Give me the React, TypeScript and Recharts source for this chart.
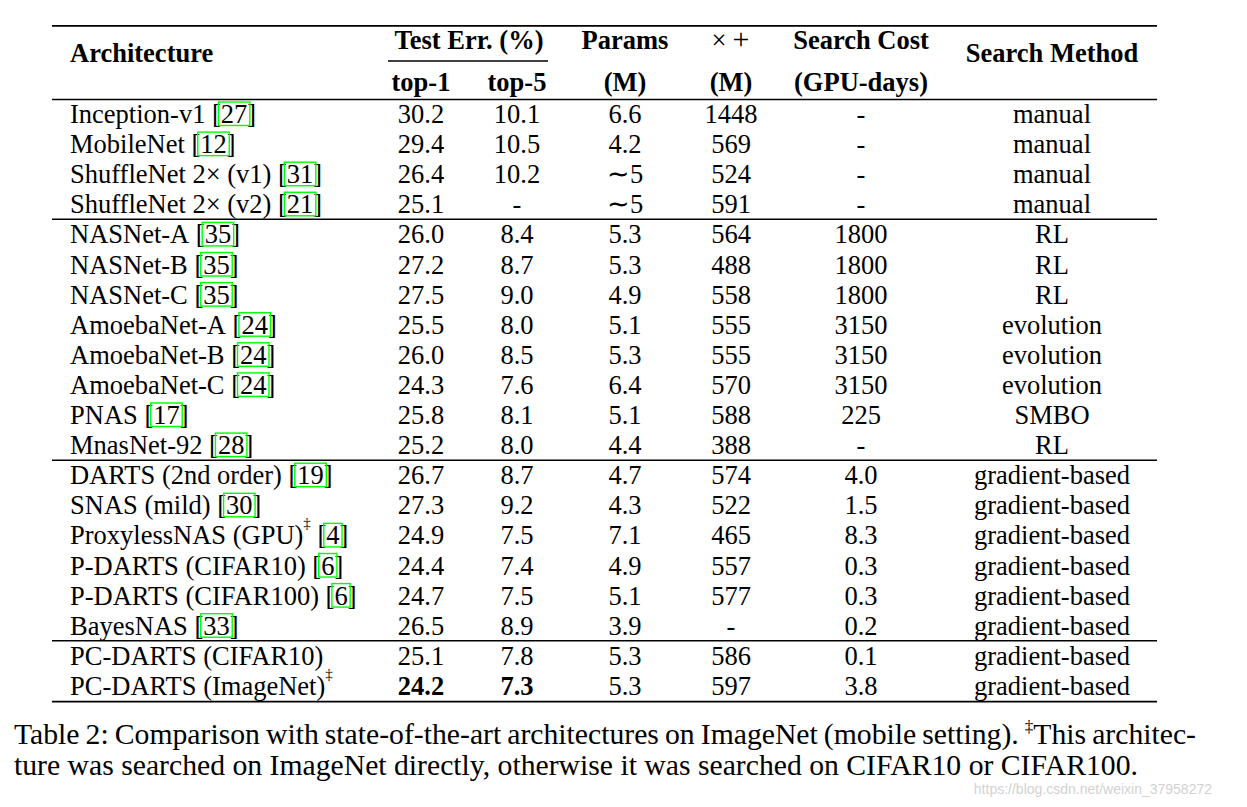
import { ReferenceLine, Scatter, ScatterChart, XAxis, YAxis } from 'recharts';

// table rows
const architectures = [
  'Inception-v1', 'MobileNet', 'ShuffleNet 2× (v1)', 'ShuffleNet 2× (v2)',
  'NASNet-A', 'NASNet-B', 'NASNet-C', 'AmoebaNet-A', 'AmoebaNet-B', 'AmoebaNet-C', 'PNAS', 'MnasNet-92',
  'DARTS (2nd order)', 'SNAS (mild)', 'ProxylessNAS (GPU)‡', 'P-DARTS (CIFAR10)', 'P-DARTS (CIFAR100)', 'BayesNAS',
  'PC-DARTS (CIFAR10)', 'PC-DARTS (ImageNet)‡',
];
const citations = ['27', '12', '31', '21', '35', '35', '35', '24', '24', '24', '17', '28', '19', '30', '4', '6', '6', '33', '', ''];
const top1 = ['30.2', '29.4', '26.4', '25.1', '26.0', '27.2', '27.5', '25.5', '26.0', '24.3', '25.8', '25.2', '26.7', '27.3', '24.9', '24.4', '24.7', '26.5', '25.1', '24.2'];
const top5 = ['10.1', '10.5', '10.2', '-', '8.4', '8.7', '9.0', '8.0', '8.5', '7.6', '8.1', '8.0', '8.7', '9.2', '7.5', '7.4', '7.5', '8.9', '7.8', '7.3'];
const params = ['6.6', '4.2', '∼5', '∼5', '5.3', '5.3', '4.9', '5.1', '5.3', '6.4', '5.1', '4.4', '4.7', '4.3', '7.1', '4.9', '5.1', '3.9', '5.3', '5.3'];
const multAdds = ['1448', '569', '524', '591', '564', '488', '558', '555', '555', '570', '588', '388', '574', '522', '465', '557', '577', '-', '586', '597'];
const searchCost = ['-', '-', '-', '-', '1800', '1800', '1800', '3150', '3150', '3150', '225', '-', '4.0', '1.5', '8.3', '0.3', '0.3', '0.2', '0.1', '3.8'];
const searchMethod = [
  'manual', 'manual', 'manual', 'manual', 'RL', 'RL', 'RL', 'evolution', 'evolution', 'evolution', 'SMBO', 'RL',
  'gradient-based', 'gradient-based', 'gradient-based', 'gradient-based', 'gradient-based', 'gradient-based',
  'gradient-based', 'gradient-based',
];
const bestRows = [19];
const groupEnds = [3, 11, 17];

const captionLine1 = 'Table 2: Comparison with state-of-the-art architectures on ImageNet (mobile setting). ';
const captionLine1b = 'This architec-';
const captionLine2 = 'ture was searched on ImageNet directly, otherwise it was searched on CIFAR10 or CIFAR100.';
const watermark = 'https://blog.csdn.net/weixin_37958272';

// layout
const W = 1247;
const H = 807;
const FONT = '"Liberation Serif", "Times New Roman", serif';
const SIZE = 26.5;
const SUP = 15;
const CAP = 29.7;
const ROW0 = 114;
const STEP = 30.1;
const LEFT = 52;
const RIGHT = 1157;
const COL = { name: 70, top1: 421, top5: 517, params: 625, madds: 731, cost: 861, method: 1052, test: 469 };
const HEAD1 = -2.46;
const HEAD2 = -1.06;
const HEADMID = -2.03;

let ctx: CanvasRenderingContext2D | null = null;
const measure = (s: string, size = SIZE) => {
  if (!ctx) ctx = document.createElement('canvas').getContext('2d');
  ctx!.font = `${size}px "Liberation Serif"`;
  return ctx!.measureText(s).width;
};

const column = (values: string[], x: number, boldBest = false) =>
  values.map((v, i) => ({ x, row: i, text: v, bold: boldBest && bestRows.includes(i) }));

const headers = [
  { x: COL.name, row: HEADMID, text: 'Architecture', anchor: 'start', bold: true },
  { x: COL.test, row: HEAD1, text: 'Test Err. (%)', bold: true },
  { x: COL.top1, row: HEAD2, text: 'top-1', bold: true },
  { x: COL.top5, row: HEAD2, text: 'top-5', bold: true },
  { x: COL.params, row: HEAD1, text: 'Params', bold: true },
  { x: COL.params, row: HEAD2, text: '(M)', bold: true },
  { x: COL.madds - 12, row: HEAD1, text: '×', bold: false },
  { x: COL.madds + 10, row: HEAD1, text: '+', bold: false, size: 30 },
  { x: COL.madds, row: HEAD2, text: '(M)', bold: true },
  { x: COL.cost, row: HEAD1, text: 'Search Cost', bold: true },
  { x: COL.cost, row: HEAD2, text: '(GPU-days)', bold: true },
  { x: COL.method, row: HEADMID, text: 'Search Method', bold: true },
];

const nameRows = architectures.map((n, i) => ({ x: COL.name, row: i, text: n, cite: citations[i] }));

const Cell = (props: any) => {
  const { cx, cy, payload } = props;
  return (
    <text
      x={cx}
      y={cy + 9}
      textAnchor={payload.anchor || 'middle'}
      fontFamily={FONT}
      fontSize={payload.size || SIZE}
      fontWeight={payload.bold ? 'bold' : 'normal'}
      fill="#000"
    >
      {payload.text}
    </text>
  );
};

const NameCell = (props: any) => {
  const { cx, cy, payload } = props;
  const base = cy + 9;
  const sup = payload.text.endsWith('‡');
  const main = sup ? payload.text.slice(0, -1) : payload.text;
  let x = cx + measure(main);
  const supX = x;
  if (sup) x += measure('‡', SUP);
  x += measure(' ');
  const cite = payload.cite;
  const numX = x + measure('[');
  const numW = measure(cite);
  return (
    <g fontFamily={FONT} fontSize={SIZE} fill="#000">
      <text x={cx} y={base}>{main}</text>
      {sup && <text x={supX} y={base - 16} fontSize={SUP}>‡</text>}
      {cite && <text x={x} y={base}>{`[${cite}]`}</text>}
      {cite && (
        <rect x={numX - 2.5} y={base - 21} width={numW + 5} height={23.5} fill="none" stroke="#00ff00" strokeWidth={1.4} />
      )}
    </g>
  );
};

const Caption = (props: any) => {
  const { cx, cy } = props;
  const natural = measure(captionLine1, CAP) + measure('‡', 17) + measure(captionLine1b, CAP);
  const spaces = (captionLine1 + captionLine1b).split(' ').length - 1;
  const ws = (1182 - natural) / spaces;
  return (
    <g fontFamily={FONT} fontSize={CAP} fill="#000">
      <text x={cx} y={cy + 10} style={{ wordSpacing: ws }}>
        {captionLine1}
        <tspan fontSize={17} dy={-12}>‡</tspan>
        <tspan dy={12}>{captionLine1b}</tspan>
      </text>
      <text x={cx} y={cy + 10 + 31}>{captionLine2}</text>
    </g>
  );
};

const Watermark = (props: any) => (
  <text
    x={props.cx}
    y={props.cy + 7}
    textAnchor="end"
    fontFamily='"Liberation Sans Narrow", "Liberation Sans", sans-serif'
    fontSize={14}
    fill="#d2d2d2"
  >
    {watermark}
  </text>
);

const rule = (row: number, x1 = LEFT, x2 = RIGHT, w = 1.5) => (
  <ReferenceLine
    key={`${row}-${x1}`}
    segment={[{ x: x1, y: row }, { x: x2, y: row }]}
    stroke="#000"
    strokeWidth={w}
    ifOverflow="visible"
  />
);

export default function App() {
  return (
    <div style={{ position: 'absolute', left: 0, top: 0, background: '#fff' }}>
      <ScatterChart width={W} height={H} margin={{ top: 0, right: 0, bottom: 0, left: 0 }}>
        <XAxis type="number" dataKey="x" domain={[0, W]} hide allowDataOverflow />
        <YAxis type="number" dataKey="row" domain={[-ROW0 / STEP, (H - ROW0) / STEP]} reversed hide allowDataOverflow />
        {rule(-2.93, LEFT, RIGHT, 1.8)}
        {rule(-1.76, 388, 548)}
        {rule(-0.48)}
        {groupEnds.map((g) => rule(g + 0.5))}
        {rule(19.52, LEFT, RIGHT, 1.8)}
        <Scatter data={headers} shape={Cell} isAnimationActive={false} />
        <Scatter data={nameRows} shape={NameCell} isAnimationActive={false} />
        <Scatter data={column(top1, COL.top1, true)} shape={Cell} isAnimationActive={false} />
        <Scatter data={column(top5, COL.top5, true)} shape={Cell} isAnimationActive={false} />
        <Scatter data={column(params, COL.params)} shape={Cell} isAnimationActive={false} />
        <Scatter data={column(multAdds, COL.madds)} shape={Cell} isAnimationActive={false} />
        <Scatter data={column(searchCost, COL.cost)} shape={Cell} isAnimationActive={false} />
        <Scatter data={column(searchMethod, COL.method)} shape={Cell} isAnimationActive={false} />
        <Scatter data={[{ x: 14, row: (734 - ROW0) / STEP }]} shape={Caption} isAnimationActive={false} />
        <Scatter data={[{ x: 1212, row: (787 - ROW0) / STEP }]} shape={Watermark} isAnimationActive={false} />
      </ScatterChart>
    </div>
  );
}
